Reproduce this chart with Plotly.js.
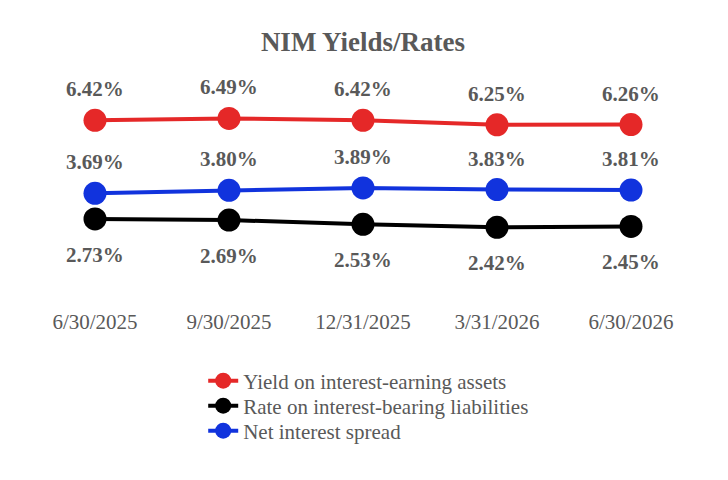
<!DOCTYPE html>
<html>
<head>
<meta charset="utf-8">
<script src="https://cdn.plot.ly/plotly-3.0.1.min.js"></script>
<style>html,body{margin:0;padding:0;background:#fff;}#chart{width:728px;height:480px;}</style>
</head>
<body>
<div id="chart"></div>
<script>
var categories = ['6/30/2025', '9/30/2025', '12/31/2025', '3/31/2026', '6/30/2026'];
var yieldAssets = [6.42, 6.49, 6.42, 6.25, 6.26];
var rateLiabilities = [2.73, 2.69, 2.53, 2.42, 2.45];
var netSpread = [3.69, 3.80, 3.89, 3.83, 3.81];
var seriesNames = ['Yield on interest-earning assets', 'Rate on interest-bearing liabilities', 'Net interest spread'];
var seriesColors = ['#E52828', '#000000', '#1133DD'];
var labelShift = [31, -36, 31];
var legendIds = ['legend', 'legend2', 'legend3'];
var allSeries = [yieldAssets, rateLiabilities, netSpread];

var FONT = '"Liberation Serif", "Times New Roman", serif';
var GRAY = '#595959';

var traces = allSeries.map(function (vals, i) {
  return {
    type: 'scatter', mode: 'lines+markers',
    x: categories, y: vals, name: seriesNames[i],
    legend: legendIds[i],
    line: {color: seriesColors[i], width: 4},
    marker: {color: seriesColors[i], size: 23},
    hoverinfo: 'skip'
  };
});

var annotations = [];
allSeries.forEach(function (vals, i) {
  vals.forEach(function (v, j) {
    annotations.push({
      x: categories[j], y: v, xref: 'x', yref: 'y',
      text: v.toFixed(2) + '%', showarrow: false, yshift: labelShift[i],
      font: {family: FONT, size: 21, color: GRAY, weight: 'bold'}
    });
  });
});

function legendBox(yPx) {
  return {x: 0.2615, xanchor: 'left', y: (292 - yPx) / 214, yanchor: 'middle', orientation: 'v',
          font: {family: FONT, size: 21, color: GRAY}, bgcolor: 'rgba(0,0,0,0)'};
}

var layout = {
  width: 728, height: 480,
  margin: {l: 28, r: 30, t: 78, b: 188},
  paper_bgcolor: '#fff', plot_bgcolor: '#fff',
  title: {text: '<b>NIM Yields/Rates</b>', x: 0.5, xref: 'paper', y: 1 - 42/480, yref: 'container', yanchor: 'middle',
          font: {family: FONT, size: 27, color: GRAY}},
  xaxis: {type: 'category', range: [-0.5, 4.5], showgrid: false, zeroline: false, showline: false,
          ticks: '', ticklabelstandoff: 15, tickfont: {family: FONT, size: 21, color: GRAY}, fixedrange: true},
  yaxis: {range: [0, 8], visible: false, fixedrange: true},
  showlegend: true,
  legend: legendBox(381),
  legend2: legendBox(406),
  legend3: legendBox(431),
  annotations: annotations
};

Plotly.newPlot('chart', traces, layout, {displayModeBar: false, staticPlot: true});
</script>
</body>
</html>
